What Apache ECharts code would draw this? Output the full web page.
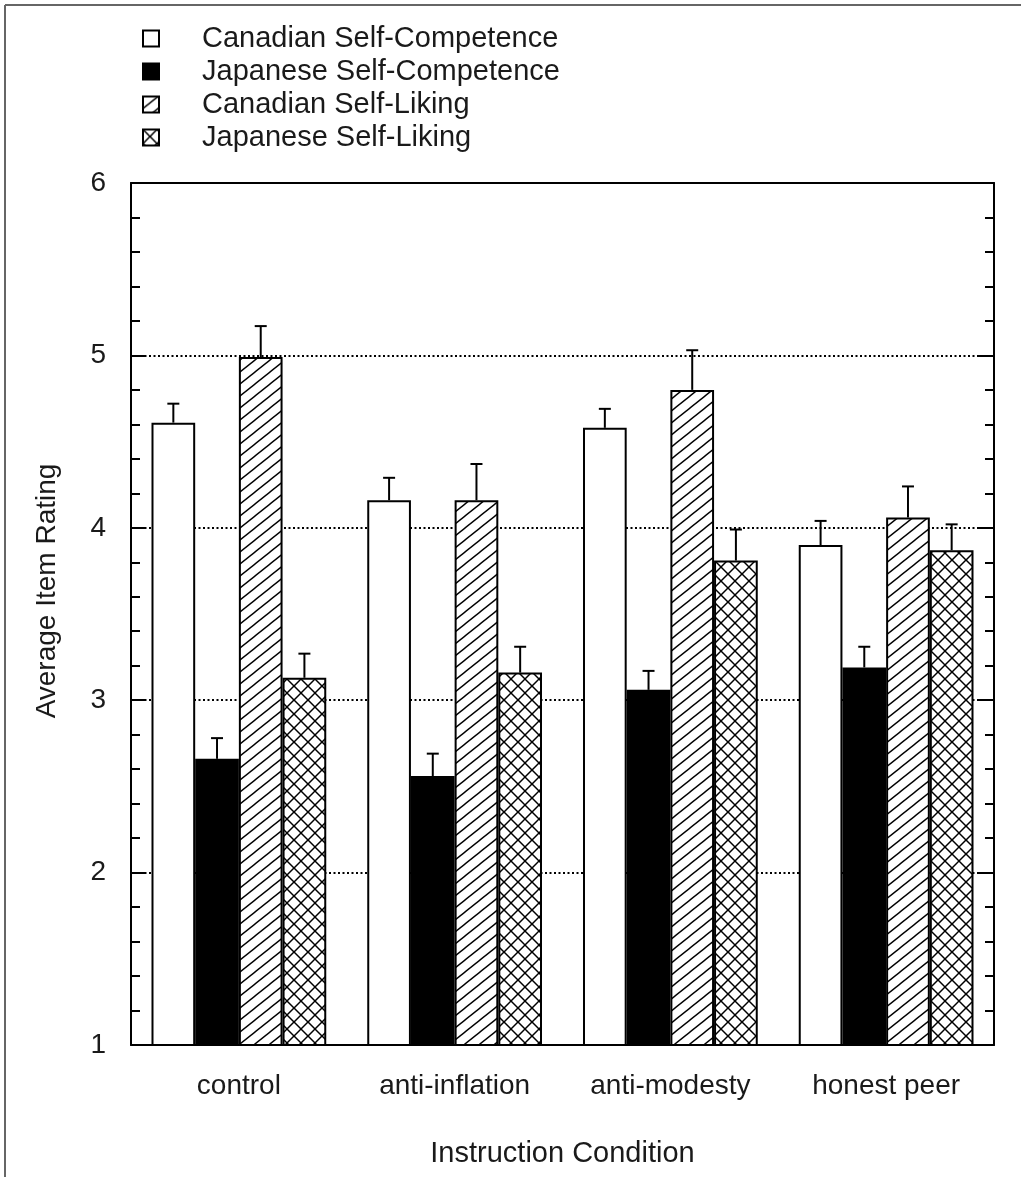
<!DOCTYPE html>
<html>
<head>
<meta charset="utf-8">
<script src="https://cdn.jsdelivr.net/npm/echarts@6/dist/echarts.min.js"></script>
<style>
html,body{margin:0;padding:0;background:#fff;}
#chart{width:1021px;height:1177px;}
</style>
</head>
<body>
<div id="chart"></div>
<script>
// ---- data ----
const categories = ['control', 'anti-inflation', 'anti-modesty', 'honest peer'];
const seriesNames = ['Canadian Self-Competence', 'Japanese Self-Competence', 'Canadian Self-Liking', 'Japanese Self-Liking'];
const canSCMean = [4.61, 4.16, 4.58, 3.90];
const canSCErr  = [0.11, 0.13, 0.11, 0.14];
const jpnSCMean = [2.66, 2.56, 3.06, 3.19];
const jpnSCErr  = [0.12, 0.13, 0.11, 0.12];
const canSLMean = [4.99, 4.16, 4.80, 4.06];
const canSLErr  = [0.18, 0.21, 0.23, 0.18];
const jpnSLMean = [3.13, 3.16, 3.81, 3.87];
const jpnSLErr  = [0.14, 0.15, 0.18, 0.15];
const yTicks = [1, 2, 3, 4, 5, 6];

const means = [canSCMean, jpnSCMean, canSLMean, jpnSLMean];
const errs = [canSCErr, jpnSCErr, canSLErr, jpnSLErr];

// ---- patterns ----
function hatchPattern() {
  const w = 15, h = 12;
  const c = document.createElement('canvas');
  c.width = w; c.height = h;
  const g = c.getContext('2d');
  g.fillStyle = '#fff'; g.fillRect(0, 0, w, h);
  g.strokeStyle = '#000'; g.lineWidth = 1.4;
  for (let k = -1; k <= 1; k++) {
    g.beginPath();
    g.moveTo(-w, h * 2 + k * h);
    g.lineTo(2 * w, -h + k * h);
    g.stroke();
  }
  return c;
}
function crossPattern() {
  const s = 14;
  const c = document.createElement('canvas');
  c.width = s; c.height = s;
  const g = c.getContext('2d');
  g.fillStyle = '#fff'; g.fillRect(0, 0, s, s);
  g.strokeStyle = '#000'; g.lineWidth = 1.5;
  g.beginPath(); g.moveTo(-2, -2); g.lineTo(s + 2, s + 2); g.stroke();
  g.beginPath(); g.moveTo(-2, s + 2); g.lineTo(s + 2, -2); g.stroke();
  return c;
}

const fills = [
  '#ffffff',
  '#000000',
  { image: hatchPattern(), repeat: 'repeat' },
  { image: crossPattern(), repeat: 'repeat' }
];

const GAP = 0.19;
const txt = '#1a1a1a';
const font = '"Liberation Sans", Arial, sans-serif';

const series = [];
for (let k = 0; k < 4; k++) {
  series.push({
    name: seriesNames[k],
    type: 'bar',
    data: means[k],
    barGap: '0%',
    barCategoryGap: (GAP * 100) + '%',
    itemStyle: { color: fills[k], borderColor: '#000', borderWidth: 2 },
    emphasis: { disabled: true },
    z: 2
  });
}
for (let k = 0; k < 4; k++) {
  series.push({
    name: 'err' + k,
    type: 'custom',
    z: 3,
    data: means[k].map((m, i) => [i, m, m + errs[k][i]]),
    renderItem: function (params, api) {
      const xi = api.value(0), m = api.value(1), hi = api.value(2);
      const band = api.size([1, 0])[0];
      const bw = band * (1 - GAP) / 4;
      const off = (k - 1.5) * bw;
      const p0 = api.coord([xi, m]);
      const p1 = api.coord([xi, hi]);
      const x = p0[0] + off;
      return {
        type: 'group',
        children: [
          { type: 'line', shape: { x1: x, y1: p0[1], x2: x, y2: p1[1] }, style: { stroke: '#000', lineWidth: 2 } },
          { type: 'line', shape: { x1: x - 6, y1: p1[1], x2: x + 6, y2: p1[1] }, style: { stroke: '#000', lineWidth: 2 } }
        ]
      };
    }
  });
}

const chart = echarts.init(document.getElementById('chart'));
chart.setOption({
  animation: false,
  backgroundColor: '#fff',
  textStyle: { fontFamily: font },
  legend: {
    data: seriesNames,
    orient: 'vertical',
    left: 137,
    top: 17,
    itemWidth: 16,
    itemHeight: 16,
    itemGap: 0,
    icon: 'rect',
    selectedMode: false,
    textStyle: { fontSize: 29, lineHeight: 33, color: txt, fontFamily: font, padding: [0, 0, 0, 38] }
  },
  grid: { left: 131, right: 27, top: 183, bottom: 132 },
  xAxis: [
    {
      type: 'category',
      data: categories,
      position: 'bottom',
      axisLine: { lineStyle: { color: '#000', width: 2 } },
      axisTick: { show: false },
      axisLabel: { fontSize: 28, color: txt, margin: 27, fontFamily: font, interval: 0, hideOverlap: false },
      name: 'Instruction Condition',
      nameLocation: 'middle',
      nameGap: 94,
      nameTextStyle: { fontSize: 29, color: txt, fontFamily: font },
      splitLine: { show: false }
    },
    {
      type: 'category',
      data: categories,
      position: 'top',
      axisLine: { lineStyle: { color: '#000', width: 2 } },
      axisTick: { show: false },
      axisLabel: { show: false },
      splitLine: { show: false }
    }
  ],
  yAxis: [
    {
      type: 'value',
      min: yTicks[0],
      max: yTicks[yTicks.length - 1],
      interval: 1,
      position: 'left',
      axisLine: { show: true, lineStyle: { color: '#000', width: 2 } },
      axisTick: { show: true, inside: true, length: 15, lineStyle: { color: '#000', width: 2 } },
      minorTick: { show: true, splitNumber: 5, length: 9, lineStyle: { color: '#000', width: 2 } },
      axisLabel: { fontSize: 28, color: txt, margin: 25, fontFamily: font },
      splitLine: { show: true, lineStyle: { color: '#000', width: 2, type: [2, 2.5] } },
      name: 'Average Item Rating',
      nameLocation: 'middle',
      nameGap: 70,
      nameTextStyle: { fontSize: 28, color: txt, fontFamily: font, padding: [0, 0, 0, 46] }
    },
    {
      type: 'value',
      min: yTicks[0],
      max: yTicks[yTicks.length - 1],
      interval: 1,
      position: 'right',
      axisLine: { show: true, lineStyle: { color: '#000', width: 2 } },
      axisTick: { show: true, inside: true, length: 15, lineStyle: { color: '#000', width: 2 } },
      minorTick: { show: true, splitNumber: 5, length: 9, lineStyle: { color: '#000', width: 2 } },
      axisLabel: { show: false },
      splitLine: { show: false }
    }
  ],
  graphic: [
    { type: 'line', shape: { x1: 5, y1: 5, x2: 1021, y2: 5 }, style: { stroke: '#666', lineWidth: 2 }, silent: true },
    { type: 'line', shape: { x1: 5, y1: 5, x2: 5, y2: 1177 }, style: { stroke: '#666', lineWidth: 2 }, silent: true }
  ],
  series: series
});
</script>
</body>
</html>
